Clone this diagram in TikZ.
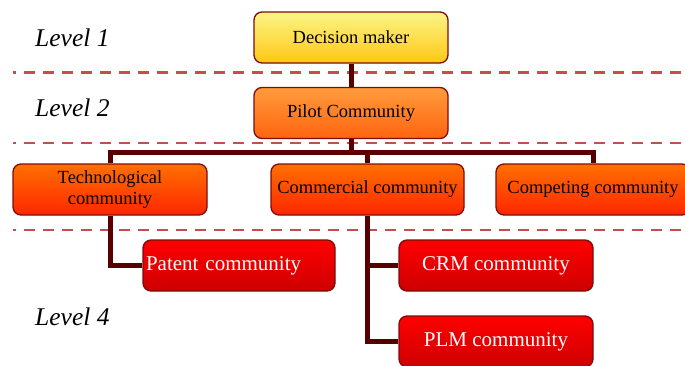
\documentclass[tikz,border=0pt]{standalone}
\usepackage{fontspec}
\setmainfont{Liberation Serif}
\usetikzlibrary{backgrounds}
\definecolor{boxline}{RGB}{125,12,12}
\definecolor{linkcol}{RGB}{88,0,0}
\definecolor{sepcol}{RGB}{192,80,77}
\definecolor{yeltop}{RGB}{250,245,135}
\definecolor{yelbot}{RGB}{255,200,20}
\definecolor{pilottop}{RGB}{255,155,60}
\definecolor{pilotbot}{RGB}{255,100,15}
\definecolor{orgtop}{RGB}{255,112,0}
\definecolor{orgbot}{RGB}{255,38,0}
\definecolor{redtop}{RGB}{255,0,0}
\definecolor{redbot}{RGB}{205,0,0}
\begin{document}
\begin{tikzpicture}[x=1pt,y=-1pt,
  box/.style={draw=boxline, line width=1.3pt, rounded corners=8pt,
    minimum width=194pt, minimum height=51pt, inner sep=2pt,
    font=\fontsize{18.5}{21}\selectfont, align=center},
  yelbox/.style={box, top color=yeltop, bottom color=yelbot},
  pilotbox/.style={box, top color=pilottop, bottom color=pilotbot},
  orgbox/.style={box, top color=orgtop, bottom color=orgbot},
  redbox/.style={box, top color=redtop, bottom color=redbot, text=white,
    font=\fontsize{21}{24}\selectfont},
  link/.style={draw=linkcol, line width=5pt, line join=miter},
  sepline/.style={draw=sepcol, line width=2.3pt, dash pattern=on 11pt off 8pt, dash phase=8pt},
  lvl/.style={font=\fontsize{25.5}{28}\selectfont\itshape, anchor=base west, inner sep=0pt}]
\useasboundingbox (0,0) rectangle (685,365);

% level labels
\node[lvl] (lvl1) at (35,46.7) {Level 1};
\node[lvl] (lvl2) at (35,116.7) {Level 2};
\node[lvl] (lvl4) at (35,325) {Level 4};

% boxes
\node[yelbox] (dm) at (351,37.5) {Decision maker};
\node[pilotbox] (pilot) at (351,113) {Pilot Community};
\node[orgbox] (tech) at (110,189.5) {Technological\\community};
\node[orgbox, minimum width=193pt] (comm) at (367.5,189.5) {Commercial community};
\node[orgbox] (comp) at (593,189.5) {Competing community};
\node[redbox, minimum width=192pt, text width=186pt, align=left, inner xsep=3pt] (patent) at (239,265.5) {Patent community};
\node[redbox] (crm) at (496,265.5) {CRM community};
\node[redbox] (plm) at (496,341.5) {PLM community};

\coordinate (busL) at (110,152);
\coordinate (s1a) at (13,72.5);
\coordinate (s1b) at (685,72.5);
\coordinate (s2a) at (13,143);
\coordinate (s2b) at (685,143);
\coordinate (s3a) at (13,230);
\coordinate (s3b) at (685,230);

\begin{scope}[on background layer]
  \draw[sepline] (s1a) -- (s1b);
  \draw[sepline] (s2a) -- (s2b);
  \draw[sepline] (s3a) -- (s3b);
  \draw[link] (dm) -- (pilot);
  \draw[link] (pilot.south) -- (pilot.south |- busL);
  \draw[link] (tech.north) |- (comp.north |- busL) -- (comp.north);
  \draw[link] (comm.north) -- (comm.north |- busL);
  \draw[link] (tech.south) |- (patent.west);
  \draw[link] (comm.south) |- (plm.west);
  \draw[link] (comm.south |- crm.west) -- (crm.west);
\end{scope}
\end{tikzpicture}
\end{document}
